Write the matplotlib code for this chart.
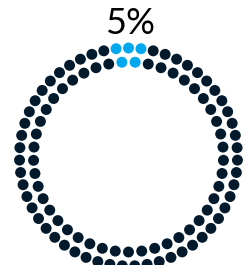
import matplotlib
matplotlib.use("Agg")
import matplotlib.pyplot as plt
import numpy as np

percent = 5
ring_counts = [55, 45]          # outer, inner
ring_highlight = [3, 2]         # highlighted dots per ring
ring_radius = [109, 95]
dot_color = "#031a2c"
hi_color = "#00a8f0"


def ring_angles(n, n_hi):
    # dots spaced evenly, highlighted ones centred on the top
    step = 360.0 / n
    start = -(n_hi - 1) / 2.0 * step
    return start + step * np.arange(n)


fig = plt.figure(figsize=(2.48, 2.65), dpi=100)
ax = fig.add_axes([0, 0, 1, 1])

for n, n_hi, r in zip(ring_counts, ring_highlight, ring_radius):
    ang = np.deg2rad(ring_angles(n, n_hi))
    x = r * np.sin(ang)
    y = r * np.cos(ang)
    colors = [hi_color] * n_hi + [dot_color] * (n - n_hi)
    ax.scatter(x, y, s=62, c=colors, linewidths=0, zorder=2)

ax.text(1.5, 134, "{}%".format(percent), ha="center", va="center",
        fontsize=26, family="Lato", color="#000000")

ax.set_xlim(-128.5, 119.5)
ax.set_ylim(-108, 157)
ax.set_aspect("equal")
ax.axis("off")
fig.savefig("out.png", dpi=100)
